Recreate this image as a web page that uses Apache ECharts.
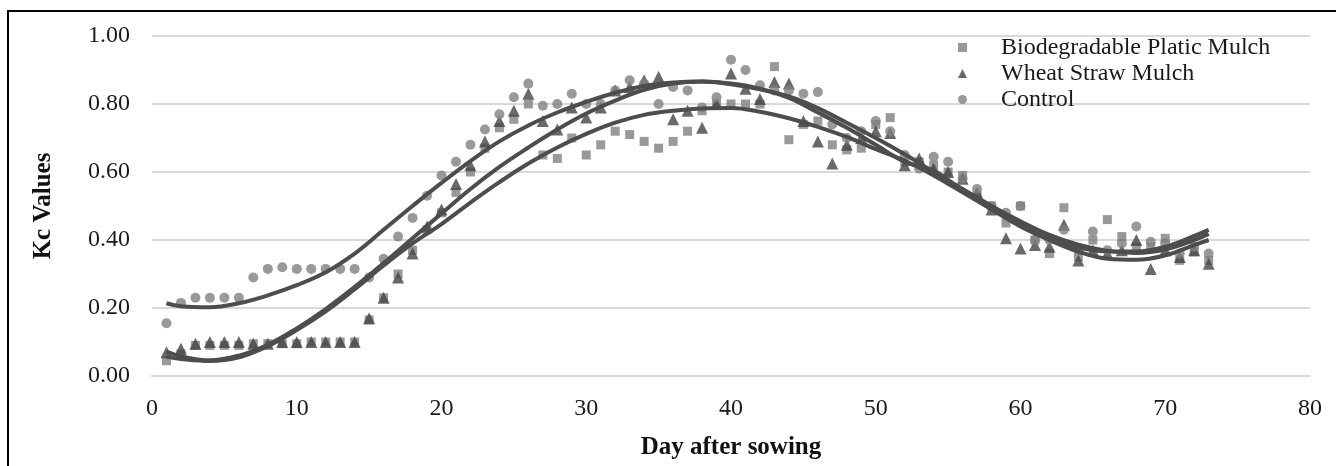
<!DOCTYPE html>
<html>
<head>
<meta charset="utf-8">
<script src="https://cdn.jsdelivr.net/npm/echarts@6/dist/echarts.min.js"></script>
<style>
  html, body { margin: 0; padding: 0; background: #fff; }
  #main { width: 1336px; height: 466px; }
</style>
</head>
<body>
<div id="main"></div>
<script>
// days after sowing
const days = [];
for (let d = 1; d <= 73; d++) days.push(d);

// Kc values, day 1..73
const bioKc = [0.045, 0.065, 0.09, 0.09, 0.09, 0.09, 0.095, 0.095, 0.095, 0.095,
  0.10, 0.10, 0.10, 0.10, 0.165, 0.23, 0.30, 0.37, 0.43, 0.48,
  0.54, 0.60, 0.67, 0.73, 0.755, 0.80, 0.65, 0.64, 0.70, 0.65,
  0.68, 0.72, 0.71, 0.69, 0.67, 0.69, 0.72, 0.78, 0.80, 0.80,
  0.80, 0.80, 0.91, 0.695, 0.74, 0.75, 0.68, 0.665, 0.67, 0.74,
  0.76, 0.63, 0.63, 0.62, 0.60, 0.59, 0.53, 0.50, 0.45, 0.50,
  0.40, 0.36, 0.495, 0.35, 0.40, 0.46, 0.41, 0.38, 0.38, 0.405,
  0.34, 0.365, 0.34];
const wheatKc = [0.07, 0.08, 0.095, 0.10, 0.10, 0.10, 0.095, 0.095, 0.10, 0.10,
  0.10, 0.10, 0.10, 0.10, 0.17, 0.23, 0.29, 0.36, 0.44, 0.49,
  0.565, 0.62, 0.69, 0.75, 0.78, 0.83, 0.75, 0.725, 0.79, 0.76,
  0.79, 0.84, 0.85, 0.87, 0.88, 0.755, 0.78, 0.73, 0.80, 0.89,
  0.845, 0.815, 0.865, 0.86, 0.75, 0.69, 0.625, 0.68, 0.70, 0.72,
  0.715, 0.62, 0.64, 0.61, 0.60, 0.58, 0.54, 0.49, 0.405, 0.375,
  0.385, 0.38, 0.445, 0.34, 0.37, 0.36, 0.37, 0.40, 0.315, 0.37,
  0.35, 0.37, 0.33];
const controlKc = [0.155, 0.215, 0.23, 0.23, 0.23, 0.23, 0.29, 0.315, 0.32, 0.315,
  0.315, 0.315, 0.315, 0.315, 0.29, 0.345, 0.41, 0.465, 0.53, 0.59,
  0.63, 0.68, 0.725, 0.77, 0.82, 0.86, 0.795, 0.80, 0.83, 0.80,
  0.80, 0.84, 0.87, 0.86, 0.80, 0.85, 0.84, 0.79, 0.82, 0.93,
  0.90, 0.855, 0.84, 0.84, 0.83, 0.835, 0.74, 0.70, 0.72, 0.75,
  0.72, 0.65, 0.61, 0.645, 0.63, 0.58, 0.55, 0.50, 0.48, 0.50,
  0.40, 0.40, 0.43, 0.37, 0.425, 0.37, 0.39, 0.44, 0.395, 0.39,
  0.36, 0.38, 0.36];

// trendlines
const trendDays = [1, 2, 4, 6, 8, 10, 12, 14, 16, 18, 20, 22, 24, 26, 28, 30, 32, 34, 36, 38,
  40, 42, 44, 46, 48, 50, 52, 54, 56, 58, 60, 62, 64, 66, 68, 70, 72, 73];
const bioTrend = [0.057, 0.05, 0.044, 0.055, 0.088, 0.135, 0.19, 0.255, 0.325, 0.39,
  0.447, 0.51, 0.57, 0.625, 0.672, 0.712, 0.745, 0.768, 0.78, 0.787,
  0.788, 0.777, 0.758, 0.733, 0.703, 0.667, 0.633, 0.59, 0.54, 0.49,
  0.44, 0.40, 0.366, 0.345, 0.342, 0.355, 0.385, 0.40];
const wheatTrend = [0.072, 0.058, 0.046, 0.06, 0.092, 0.14, 0.197, 0.262, 0.332, 0.405,
  0.478, 0.55, 0.615, 0.672, 0.725, 0.772, 0.81, 0.842, 0.86, 0.866,
  0.858, 0.843, 0.822, 0.788, 0.745, 0.70, 0.652, 0.60, 0.55, 0.50,
  0.455, 0.415, 0.386, 0.368, 0.362, 0.372, 0.400, 0.418];
const controlTrend = [0.214, 0.205, 0.202, 0.214, 0.237, 0.267, 0.305, 0.36, 0.43, 0.50,
  0.568, 0.632, 0.69, 0.737, 0.775, 0.806, 0.833, 0.853, 0.863, 0.866,
  0.86, 0.845, 0.818, 0.775, 0.73, 0.68, 0.63, 0.604, 0.545, 0.49,
  0.444, 0.404, 0.378, 0.367, 0.366, 0.38, 0.412, 0.43];

const xTicks = [0, 10, 20, 30, 40, 50, 60, 70, 80];

function pairs(xs, ys) {
  return xs.map(function (x, i) { return [x, ys[i]]; });
}

const serif = '"Liberation Serif", "Times New Roman", serif';
const chart = echarts.init(document.getElementById('main'), null, { renderer: 'canvas' });

function trend(data) {
  return {
    type: 'line',
    data: data,
    smooth: 0.4,
    symbol: 'none',
    silent: true,
    z: 5,
    lineStyle: { color: '#4d4d4d', width: 4 }
  };
}

chart.setOption({
  animation: false,
  backgroundColor: '#fff',
  textStyle: { fontFamily: serif },
  graphic: [{
    type: 'rect',
    shape: { x: 8, y: 11, width: 1340, height: 470 },
    style: { fill: 'none', stroke: '#000', lineWidth: 2 },
    silent: true
  }],
  grid: { left: 152, right: 26, top: 36, bottom: 90 },
  legend: {
    orient: 'vertical',
    left: 953,
    top: 30,
    itemWidth: 9,
    itemHeight: 9,
    itemGap: 1,
    textStyle: { fontFamily: serif, fontSize: 24, color: '#1a1a1a', lineHeight: 25, padding: [0, 0, 0, 29] },
    data: [
      { name: 'Biodegradable Platic Mulch', icon: 'rect' },
      { name: 'Wheat Straw Mulch', icon: 'triangle' },
      { name: 'Control', icon: 'circle' }
    ]
  },
  xAxis: {
    type: 'value',
    min: 0,
    max: 80,
    interval: 10,
    name: 'Day after sowing',
    nameLocation: 'middle',
    nameGap: 59,
    nameTextStyle: { fontFamily: serif, fontSize: 25, fontWeight: 'bold', color: '#111' },
    axisLine: { show: true, lineStyle: { color: '#d9d9d9', width: 2 } },
    axisTick: { show: false },
    splitLine: { show: false },
    axisLabel: {
      margin: 21,
      fontFamily: serif, fontSize: 24, color: '#1a1a1a',
      customValues: xTicks
    }
  },
  yAxis: {
    type: 'value',
    min: 0,
    max: 1,
    interval: 0.2,
    name: 'Kc Values',
    nameLocation: 'middle',
    nameGap: 96,
    nameTextStyle: { fontFamily: serif, fontSize: 25, fontWeight: 'bold', color: '#111' },
    axisLine: { show: false },
    axisTick: { show: false },
    splitLine: { show: true, lineStyle: { color: '#d9d9d9', width: 2 } },
    axisLabel: {
      margin: 22,
      fontFamily: serif, fontSize: 24, color: '#1a1a1a',
      formatter: function (v) { return v.toFixed(2); }
    }
  },
  series: [
    {
      name: 'Biodegradable Platic Mulch',
      type: 'scatter',
      symbol: 'rect',
      symbolSize: 9,
      itemStyle: { color: '#7f7f7f' },
      data: pairs(days, bioKc),
      z: 3
    },
    {
      name: 'Wheat Straw Mulch',
      type: 'scatter',
      symbol: 'triangle',
      symbolSize: 12,
      itemStyle: { color: '#434343' },
      data: pairs(days, wheatKc),
      z: 3
    },
    {
      name: 'Control',
      type: 'scatter',
      symbol: 'circle',
      symbolSize: 10,
      itemStyle: { color: '#808080' },
      data: pairs(days, controlKc),
      z: 3
    },
    trend(pairs(trendDays, bioTrend)),
    trend(pairs(trendDays, wheatTrend)),
    trend(pairs(trendDays, controlTrend))
  ]
});
</script>
</body>
</html>
